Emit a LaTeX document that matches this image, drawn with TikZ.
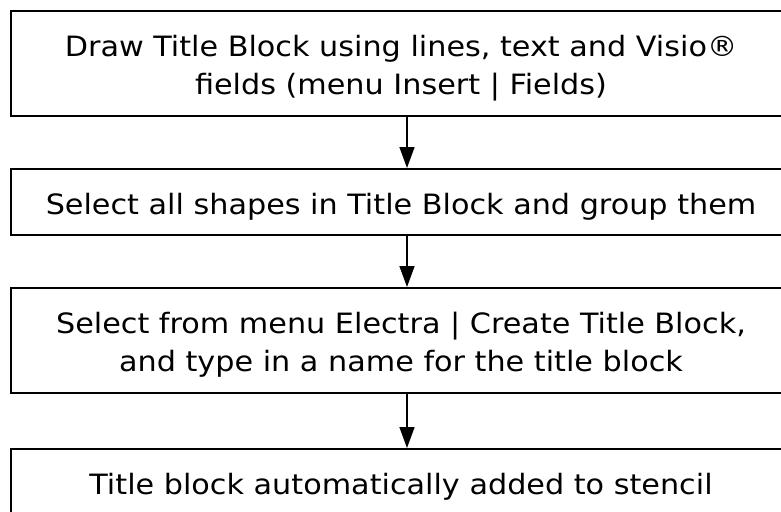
\documentclass[tikz,border=0pt]{standalone}
\usepackage{fontspec}
\setmainfont{DejaVu Sans}[FakeStretch=1.08]
\usetikzlibrary{arrows.meta}
\begin{document}
\begin{tikzpicture}[x=1pt,y=-1pt,
  stepbox/.style={draw, line width=2pt, rectangle, minimum width=780pt, inner sep=0pt},
  steptext/.style={align=center, font=\fontsize{28}{38}\selectfont, inner sep=0pt, yshift=-4.5pt},
  flow/.style={line width=1.5pt, -{Triangle[length=21pt,width=15pt]}}]
\useasboundingbox (0,0) rectangle (781,511);
\node[stepbox, minimum height=105pt] (b1) at (401,63.5) {};
\node[stepbox, minimum height=66pt] (b2) at (401,202) {};
\node[stepbox, minimum height=105pt] (b3) at (401,340.5) {};
\node[stepbox, minimum height=67pt] (b4) at (401,482.5) {};
\node[steptext] (t1) at (b1.center) {Draw Title Block using lines, text and Visio®\\fields (menu Insert | Fields)};
\node[steptext] (t2) at (b2.center) {Select all shapes in Title Block and group them};
\node[steptext] (t3) at (b3.center) {Select from menu Electra | Create Title Block,\\and type in a name for the title block};
\node[steptext] (t4) at (b4.center) {Title block automatically added to stencil};
\draw[flow] (b1.south -| 407,0) -- (b2.north -| 407,0);
\draw[flow] (b2.south -| 407,0) -- (b3.north -| 407,0);
\draw[flow] (b3.south -| 407,0) -- (b4.north -| 407,0);
\end{tikzpicture}
\end{document}
